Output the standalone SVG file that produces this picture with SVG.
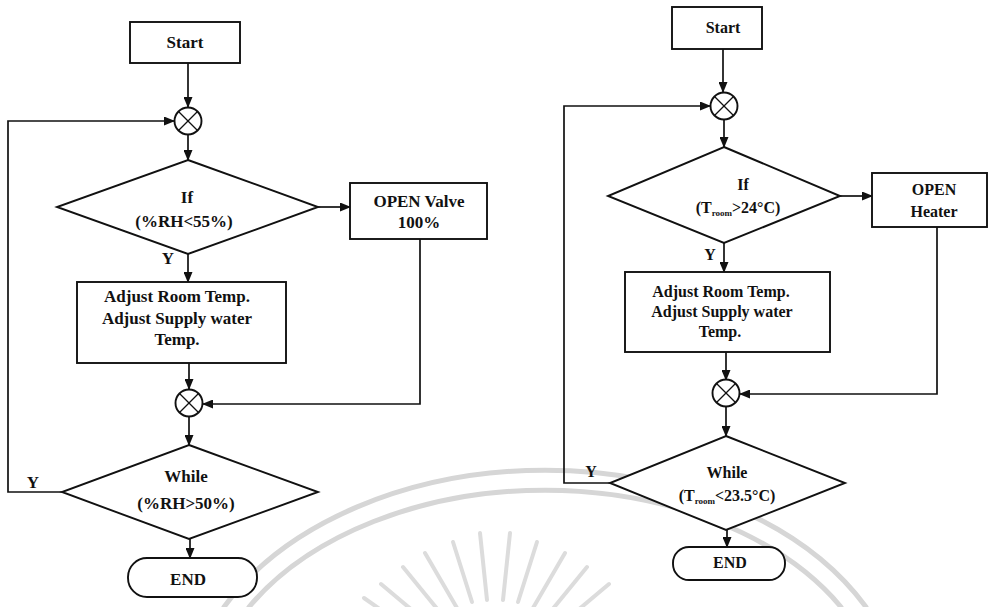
<svg xmlns="http://www.w3.org/2000/svg" width="989" height="607" viewBox="0 0 989 607">
  <defs>
    <marker id="arrow" markerUnits="userSpaceOnUse" markerWidth="11" markerHeight="9" refX="10" refY="4.5" orient="auto">
      <path d="M0,0 L11,4.5 L0,9 z" fill="#111"/>
    </marker>
  </defs>
  <style>
    .shape { fill: #fff; stroke: #111; stroke-width: 1.9; }
    .flow { fill: none; stroke: #111; stroke-width: 1.7; marker-end: url(#arrow); }
    .cross { stroke: #111; stroke-width: 1.3; }
    text { font-family: "Liberation Serif", "Times New Roman", serif; font-weight: bold; fill: #111; text-anchor: middle; }
    .l { font-size: 17px; }
    .r { font-size: 16px; }
    .wm { fill: none; stroke: #d6d6d6; stroke-width: 5; stroke-linecap: round; }
  </style>

  <!-- faint background emblem -->
  <g id="emblem">
    <path class="wm" d="M 224 607 A 360 250 0 0 1 866 607"/>
    <path class="wm" d="M 249 607 A 340 230 0 0 1 841 607"/>
    <g stroke="#dcdcdc" stroke-width="4" stroke-linecap="round">
      <line x1="421" y1="638" x2="364" y2="598"/>
      <line x1="431" y1="626" x2="381" y2="584"/>
      <line x1="443" y1="616" x2="403" y2="567"/>
      <line x1="457" y1="608" x2="425" y2="553"/>
      <line x1="472" y1="602" x2="453" y2="542"/>
      <line x1="487" y1="600" x2="480" y2="533"/>
      <line x1="503" y1="600" x2="510" y2="533"/>
      <line x1="518" y1="602" x2="537" y2="542"/>
      <line x1="533" y1="608" x2="565" y2="553"/>
      <line x1="547" y1="616" x2="587" y2="567"/>
      <line x1="559" y1="626" x2="609" y2="584"/>
    </g>
  </g>

  <!-- connectors -->
  <g id="connectors">
    <!-- humidity loop -->
    <line class="flow" x1="188" y1="63" x2="188" y2="107"/>
    <line class="flow" x1="188" y1="134.5" x2="188" y2="160"/>
    <line class="flow" x1="318" y1="207" x2="350" y2="207"/>
    <line class="flow" x1="188" y1="254" x2="188" y2="282"/>
    <line class="flow" x1="189" y1="363" x2="189" y2="389"/>
    <polyline class="flow" points="420,239 420,404 203,404"/>
    <line class="flow" x1="189" y1="416.5" x2="189" y2="445"/>
    <polyline class="flow" points="62,492 8,492 8,121 174,121"/>
    <line class="flow" x1="190" y1="539" x2="190" y2="558"/>

    <!-- room temperature loop -->
    <line class="flow" x1="723" y1="49" x2="723" y2="92"/>
    <line class="flow" x1="724" y1="119.5" x2="724" y2="147"/>
    <line class="flow" x1="840" y1="196" x2="872" y2="196"/>
    <line class="flow" x1="724" y1="243" x2="724" y2="272"/>
    <line class="flow" x1="726" y1="352" x2="726" y2="380"/>
    <polyline class="flow" points="937,227 937,394 740,394"/>
    <line class="flow" x1="726" y1="406.5" x2="726" y2="436"/>
    <polyline class="flow" points="610,483 564,483 564,106 710,106"/>
    <line class="flow" x1="727" y1="530" x2="727" y2="547"/>
  </g>

  <!-- humidity loop nodes -->
  <g id="h-start">
    <rect class="shape" x="130" y="22" width="110" height="41"/>
    <text class="l" x="185" y="48">Start</text>
  </g>
  <g id="h-join1">
    <circle class="shape" cx="188" cy="121" r="13.5"/>
    <line class="cross" x1="178.5" y1="111.5" x2="197.5" y2="130.5"/>
    <line class="cross" x1="197.5" y1="111.5" x2="178.5" y2="130.5"/>
  </g>
  <g id="h-if">
    <polygon class="shape" points="188,160 318,207 188,254 57,207"/>
    <text class="l" x="187" y="203">If</text>
    <text class="l" x="184" y="227">(%RH&lt;55%)</text>
  </g>
  <g id="h-valve">
    <rect class="shape" x="350" y="183" width="137" height="56"/>
    <text class="l" x="419" y="207">OPEN Valve</text>
    <text class="l" x="419" y="228">100%</text>
  </g>
  <text class="l" x="168" y="264" font-size="15">Y</text>
  <g id="h-adjust">
    <rect class="shape" x="77" y="282" width="209" height="81"/>
    <text class="l" x="177" y="302">Adjust Room Temp.</text>
    <text class="l" x="177" y="324">Adjust Supply water</text>
    <text class="l" x="177" y="345">Temp.</text>
  </g>
  <g id="h-join2">
    <circle class="shape" cx="189" cy="403" r="13.5"/>
    <line class="cross" x1="179.5" y1="393.5" x2="198.5" y2="412.5"/>
    <line class="cross" x1="198.5" y1="393.5" x2="179.5" y2="412.5"/>
  </g>
  <g id="h-while">
    <polygon class="shape" points="189,445 318,492 189,539 62,492"/>
    <text class="l" x="186" y="482">While</text>
    <text class="l" x="186" y="509">(%RH&gt;50%)</text>
  </g>
  <text class="l" x="33" y="488">Y</text>
  <g id="h-end">
    <rect class="shape" x="128" y="558" width="129" height="39" rx="19" ry="19"/>
    <text class="l" x="188" y="585">END</text>
  </g>

  <!-- room temperature loop nodes -->
  <g id="t-start">
    <rect class="shape" x="672" y="7" width="90" height="42"/>
    <text class="r" x="723" y="33">Start</text>
  </g>
  <g id="t-join1">
    <circle class="shape" cx="724" cy="106" r="13.5"/>
    <line class="cross" x1="714.5" y1="96.5" x2="733.5" y2="115.5"/>
    <line class="cross" x1="733.5" y1="96.5" x2="714.5" y2="115.5"/>
  </g>
  <g id="t-if">
    <polygon class="shape" points="724,147 840,196 724,243 608,196"/>
    <text class="r" x="743" y="190">If</text>
    <text class="r" x="738" y="213">(T<tspan font-size="9" dy="3">room</tspan><tspan dy="-3">&gt;24°C)</tspan></text>
  </g>
  <g id="t-heater">
    <rect class="shape" x="872" y="173" width="115" height="54"/>
    <text class="r" x="934" y="195">OPEN</text>
    <text class="r" x="934" y="217">Heater</text>
  </g>
  <text class="r" x="710" y="260" font-size="14">Y</text>
  <g id="t-adjust">
    <rect class="shape" x="625" y="272" width="205" height="80"/>
    <text class="r" x="721" y="297">Adjust Room Temp.</text>
    <text class="r" x="722" y="317">Adjust Supply water</text>
    <text class="r" x="720" y="337">Temp.</text>
  </g>
  <g id="t-join2">
    <circle class="shape" cx="726" cy="393" r="13.5"/>
    <line class="cross" x1="716.5" y1="383.5" x2="735.5" y2="402.5"/>
    <line class="cross" x1="735.5" y1="383.5" x2="716.5" y2="402.5"/>
  </g>
  <g id="t-while">
    <polygon class="shape" points="726,436 845,483 726,530 610,483"/>
    <text class="r" x="727" y="478">While</text>
    <text class="r" x="727" y="501">(T<tspan font-size="9" dy="3">room</tspan><tspan dy="-3">&lt;23.5°C)</tspan></text>
  </g>
  <text class="r" x="591" y="477" font-size="14">Y</text>
  <g id="t-end">
    <rect class="shape" x="673" y="547" width="112" height="33" rx="16" ry="16"/>
    <text class="r" x="730" y="568">END</text>
  </g>
</svg>
